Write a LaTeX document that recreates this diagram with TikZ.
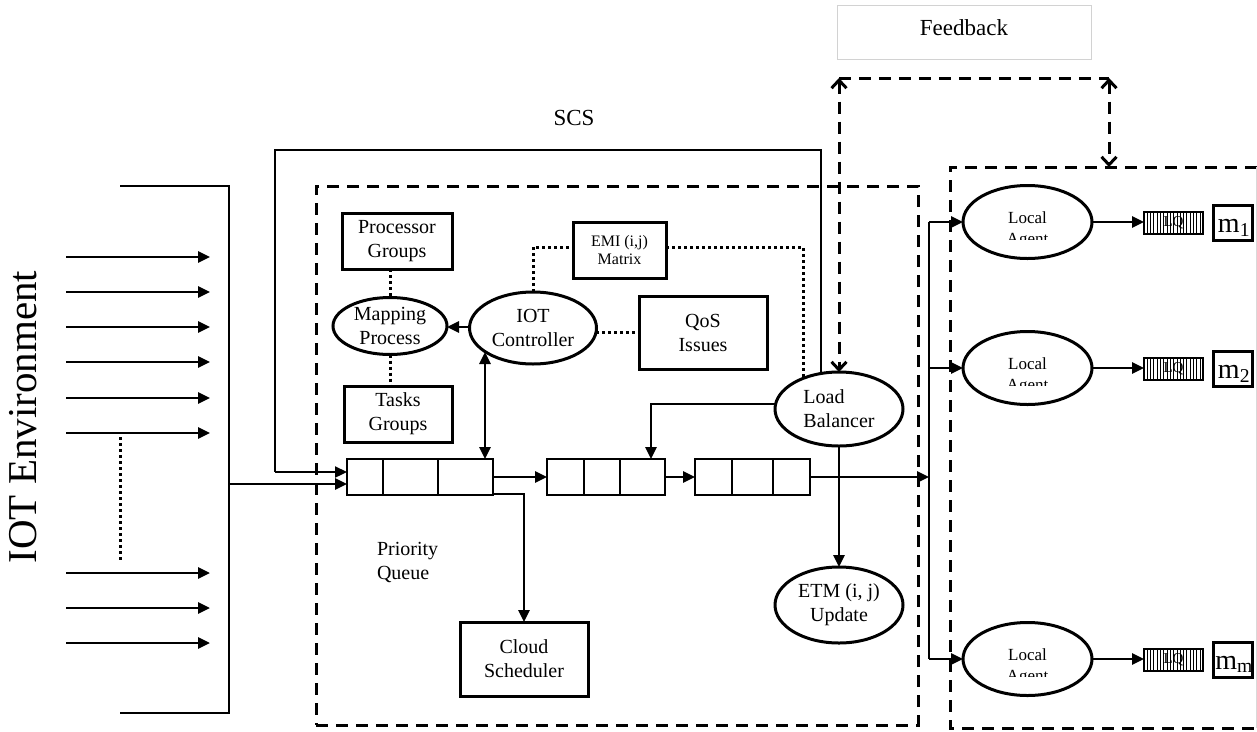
\documentclass[tikz,border=0pt]{standalone}
\usepackage{fontspec}
\setmainfont{Liberation Serif}
\usetikzlibrary{shapes.geometric,arrows.meta,calc}
\begin{document}
\begin{tikzpicture}[x=1pt,y=-1pt,
  every node/.style={inner sep=0pt, outer sep=0pt},
  box/.style={draw, line width=3pt, rectangle},
  oval/.style={draw, line width=3pt, ellipse},
  lbl/.style={font=\fontsize{20}{24}\selectfont, align=center},
  conn/.style={line width=2.7pt},
  arr/.style={conn, -{Triangle[length=12pt,width=11pt]}},
  darr/.style={conn, {Triangle[length=12pt,width=11pt]}-{Triangle[length=12pt,width=11pt]}},
  dots/.style={line width=3pt, dash pattern=on 3pt off 3pt},
  dashbox/.style={line width=3pt, dash pattern=on 12pt off 8pt},
  fb/.style={line width=3pt, dash pattern=on 12pt off 8pt, {Straight Barb[length=8pt,width=15pt]}-{Straight Barb[length=8pt,width=15pt]}},
  qcell/.style={draw, line width=2.7pt, minimum height=36pt, rectangle},
]
\useasboundingbox (0,0) rectangle (1257,731);

% ---------- titles ----------
\node[rotate=90, anchor=base, font=\fontsize{41}{48}\selectfont] (env) at (36,417) {IOT Environment};
\node[draw=gray!35, line width=1pt, minimum width=254pt, minimum height=54pt] (fbk) at (964,32) {};
\node[anchor=base, font=\fontsize{23}{27}\selectfont] (fbkt) at (964,35) {Feedback};
\node[anchor=base, font=\fontsize{23}{27}\selectfont] (scs) at (574,125) {SCS};

% ---------- containers ----------
\node[draw, dashbox, minimum width=602pt, minimum height=539pt] (scsbox) at (617,455.5) {};
\draw[dashbox] (1257,167) -- (950,167) -- (950,728) -- (1257,728);
\draw[gray!30, line width=1pt] (1256,167) -- (1256,728);
\coordinate (rtop) at (1109,167);

% ---------- left bracket and inputs ----------
\coordinate (bt) at (120,186);
\coordinate (bb) at (120,713);
\draw[conn] (bt) -- (229,186) -- (229,713) -- (bb);
\foreach \yy in {257,292,327,362,398,433,573,608,643}
  \draw[arr] (66,\yy) -- (210,\yy);
\draw[dots] (120,437) -- (120,561);

% ---------- SCS nodes ----------
\node[box, minimum width=110pt, minimum height=56pt, lbl] (pg) at (397,241) {Processor\\Groups};
\node[oval, minimum width=114pt, minimum height=57pt] (mp) at (390,326) {};
\node[lbl] (mpt) at (mp.center) {Mapping\\Process};
\node[box, minimum width=108pt, minimum height=56pt, lbl] (tg) at (398,414) {Tasks\\Groups};
\node[oval, minimum width=127pt, minimum height=72pt] (iot) at (533,328) {};
\node[lbl] (iott) at (iot.center) {IOT\\Controller};
\node[box, minimum width=93pt, minimum height=56pt, font=\fontsize{16}{18}\selectfont, align=center] (emi) at (619.5,250) {EMI (i,j)\\Matrix};
\node[box, minimum width=128pt, minimum height=73pt, lbl] (qos) at (703,332.5) {QoS\\Issues};
\node[oval, minimum width=128pt, minimum height=74pt] (lb) at (839,409) {};
\node[lbl, align=left] (lbt) at (lb.center) {Load\\Balancer};
\node[oval, minimum width=128pt, minimum height=76pt] (etm) at (839,605) {};
\node[lbl] (etmt) at (etm.center) {ETM (i, j)\\Update};
\node[box, minimum width=128pt, minimum height=74pt, lbl] (cs) at (524,659) {Cloud\\Scheduler};
\node[lbl, align=left, anchor=west] (pq) at (377,562) {Priority\\Queue};

% ---------- queues ----------
\node[qcell, minimum width=146pt] (q1) at (420,477) {};
\draw[conn] (383,459) -- (383,495);
\draw[conn] (438,459) -- (438,495);
\node[qcell, minimum width=118pt] (q2) at (606,477) {};
\draw[conn] (584,459) -- (584,495);
\draw[conn] (620,459) -- (620,495);
\node[qcell, minimum width=115pt] (q3) at (752.5,477) {};
\draw[conn] (732,459) -- (732,495);
\draw[conn] (773,459) -- (773,495);

% ---------- right side agents ----------
\foreach \n/\yy/\s in {1/222/1, 2/368/2, 3/659/m} {
  \node[oval, minimum width=129pt, minimum height=73pt] (la\n) at (1027.5,\yy) {};
  \node[anchor=base, font=\fontsize{17}{20}\selectfont] (lat\n) at (1027.5,\yy+1) {Local};
  \begin{scope}
    \clip (980,\yy+3) rectangle (1075,\yy+17);
    \node[anchor=base, font=\fontsize{17}{20}\selectfont] (lag\n) at (1027.5,\yy+22) {Agent};
  \end{scope}
  \node[draw, line width=2.6pt, minimum width=59pt, minimum height=22pt] (lq\n) at (1173.5,\yy+1) {};
  \foreach \k in {1,...,17}
    \draw[line width=0.9pt] ($(lq\n.north west)+(\k*3.3,0)$) -- ++(0,22);
  \node[font=\fontsize{15}{17}\selectfont] (lqt\n) at (lq\n.center) {LQ};
  \node[box, minimum width=39pt, minimum height=35pt] (m\n) at (1232.5,\yy+1) {};
  \node[anchor=base, font=\fontsize{28}{30}\selectfont] (mt\n) at (1234,\yy+10) {m\textsubscript{\s}};
  \draw[arr] (la\n.east) -- (lq\n.west |- la\n.east);
}

% ---------- connectors ----------
\coordinate (bo) at (229,484);
\draw[arr] (bo) -- (bo -| q1.west);
\coordinate (scsR) at (821,150);
\coordinate (scsL) at (275,150);
\draw[conn, line width=2.3pt] (scsR |- lb.north) -- (scsR) -- (scsL) -- (scsL |- 0,472);
\draw[arr, line width=2.3pt] (scsL |- 0,472) -- ($(q1.west)+(0,-5)$);
\draw[arr] (q1.east) -- (q2.west);
\draw[arr] (q2.east) -- (q3.west);
\coordinate (dv) at (929,477);
\draw[arr] (q3.east) -- (dv);
\draw[conn] (la1.west -| dv) -- (la3.west -| dv);
\draw[arr] (la1.west -| dv) -- (la1.west);
\draw[arr] (la2.west -| dv) -- (la2.west);
\draw[arr] (la3.west -| dv) -- (la3.west);

\coordinate (q2in) at ($(q2.north west)+(104,0)$);
\draw[arr] ($(lb.west)+(0.5,-5)$) -| (q2in);
\draw[arr] (lb.south) -- (etm.north);
\draw[arr] ($(q1.south east)+(0,-1)$) -| (cs.north);
\coordinate (iotq) at ($(q1.north west)+(138,0)$);
\draw[darr] ($(iot.center)+(-48,24)$) -- (iotq);
\draw[arr] ($(iot.west)+(0,-1)$) -- ($(mp.east)+(0,1)$);

\draw[dots] (mp.north |- pg.south) -- (mp.north);
\draw[dots] (mp.south) -- (mp.south |- tg.north);
\draw[dots] (iot.north) |- ($(emi.west)+(0,-3)$);
\draw[dots] ($(emi.east)+(0,-3)$) -| ($(lb.center)+(-36,-31)$);
\draw[dots] ($(qos.west -| iot.east)+(-0.5,0)$) -- (qos.west);

% ---------- feedback ----------
\coordinate (fbL) at (839,78);
\coordinate (fbR) at (1109,78);
\draw[fb] (fbL) -- (lb.north);
\draw[dashbox] (fbL) -- (fbR);
\draw[fb] (fbR) -- (rtop);
\end{tikzpicture}
\end{document}
